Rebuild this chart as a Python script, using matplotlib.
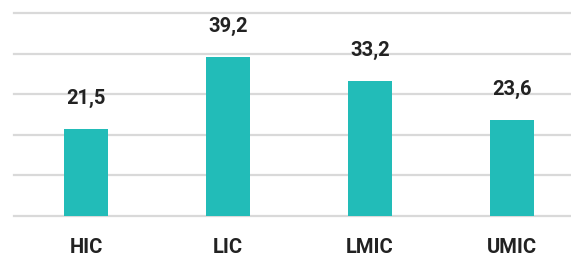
import matplotlib
matplotlib.use("Agg")
import matplotlib.pyplot as plt

categorias = ["HIC", "LIC", "LMIC", "UMIC"]
valores = [21.5, 39.2, 33.2, 23.6]
etiquetas = ["21,5", "39,2", "33,2", "23,6"]

fig = plt.figure(figsize=(5.71, 2.59), dpi=100)
ax = fig.add_axes([14/571, 1 - 216/259, 557/571, 203/259])

x = range(len(categorias))
ax.bar(x, valores, width=0.31, color="#22BCB8", zorder=3)

for i, (v, t) in enumerate(zip(valores, etiquetas)):
    ax.annotate(t, (i, v), xytext=(0, 21), textcoords="offset pixels",
                ha="center", va="bottom", fontsize=14.5, fontweight="bold",
                color="#222222", family="Roboto")

ax.set_xlim(-0.507, 3.415)
ax.set_ylim(0, 50)
ax.set_yticks(range(0, 51, 10))
ax.yaxis.grid(True, color="#d9d9d9", linewidth=1.6)
for gl in ax.get_ygridlines():
    gl.set_clip_on(False)
ax.tick_params(axis="y", left=False, labelleft=False)
ax.tick_params(axis="x", bottom=False, pad=12)
ax.set_xticks(list(x))
ax.set_xticklabels(categorias, fontsize=14.5, fontweight="bold", color="#222222", family="Roboto")
for s in ax.spines.values():
    s.set_visible(False)

plt.savefig("out.png", dpi=100)
